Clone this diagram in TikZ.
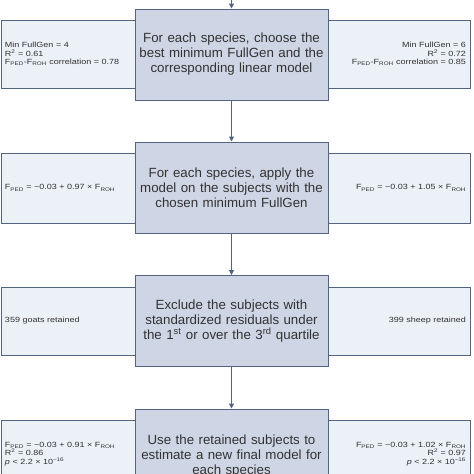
\documentclass[tikz,border=0pt]{standalone}
\usepackage{fontspec}
\setmainfont{Liberation Sans}
\newfontfamily\sidefont[FakeStretch=1.2]{Liberation Sans}
\usetikzlibrary{arrows.meta}
\definecolor{cfill}{RGB}{206,214,229}
\definecolor{sfill}{RGB}{236,240,247}
\definecolor{bord}{RGB}{82,100,128}
\definecolor{txt}{RGB}{50,50,50}
\begin{document}
\begin{tikzpicture}[x=1pt,y=-1pt,
  mainbox/.style={draw=bord, fill=cfill, line width=1pt, minimum width=193pt, minimum height=91pt,
    text width=191pt, align=center, inner sep=0pt, font=\fontsize{13.3}{15}\selectfont, text=txt},
  sidebox/.style={draw=bord, fill=sfill, line width=0.8pt, inner sep=0pt,
    font=\sidefont\fontsize{7.5}{8.6}\selectfont, text=txt},
  lbox/.style={sidebox, minimum width=134pt, text width=126pt, align=left},
  rbox/.style={sidebox, minimum width=143pt, text width=135pt, align=right},
  flow/.style={draw=bord, line width=1.1pt, -{Triangle[length=5pt,width=5pt]}}
]
\useasboundingbox[fill=white] (0,0) rectangle (474,474);
% side boxes
\node[lbox, minimum height=68pt] (l1) at (68,54) {Min FullGen = 4\\R\textsuperscript{2} = 0.61\\F\textsubscript{PED}-F\textsubscript{ROH} correlation = 0.78};
\node[rbox, minimum height=68pt] (r1) at (398.5,54) {Min FullGen = 6\\R\textsuperscript{2} = 0.72\\F\textsubscript{PED}-F\textsubscript{ROH} correlation = 0.85};
\node[lbox, minimum height=70pt] (l2) at (68,188) {F\textsubscript{PED} = −0.03 + 0.97 × F\textsubscript{ROH}};
\node[rbox, minimum height=70pt] (r2) at (398.5,188) {F\textsubscript{PED} = −0.03 + 1.05 × F\textsubscript{ROH}};
\node[lbox, minimum height=68pt] (l3) at (68,321) {359 goats retained};
\node[rbox, minimum height=68pt] (r3) at (398.5,321) {399 sheep retained};
\node[lbox, minimum height=68pt] (l4) at (68,454) {F\textsubscript{PED} = −0.03 + 0.91 × F\textsubscript{ROH}\\R\textsuperscript{2} = 0.86\\\textit{p} < 2.2 × 10\textsuperscript{−16}};
\node[rbox, minimum height=68pt] (r4) at (398.5,454) {F\textsubscript{PED} = −0.03 + 1.02 × F\textsubscript{ROH}\\R\textsuperscript{2} = 0.97\\\textit{p} < 2.2 × 10\textsuperscript{−16}};
% main boxes
\node[mainbox] (c1) at (231.5,54.5) {For each species, choose the\\best minimum FullGen and the\\corresponding linear model};
\node[mainbox] (c2) at (231.5,187.5) {For each species, apply the\\model on the subjects with the\\chosen minimum FullGen};
\node[mainbox] (c3) at (231.5,321) {Exclude the subjects with\\standardized residuals under\\the 1\textsuperscript{st} or over the 3\textsuperscript{rd} quartile};
\node[mainbox, minimum height=94pt] (c4) at (231.5,456) {Use the retained subjects to\\estimate a new final model for\\each species};
% connectors
\coordinate (top) at (231.5,0);
\draw[flow] (top) -- (c1.north);
\draw[flow] (c1.south) -- (c2.north);
\draw[flow] (c2.south) -- (c3.north);
\draw[flow] (c3.south) -- (c4.north);
\end{tikzpicture}
\end{document}
